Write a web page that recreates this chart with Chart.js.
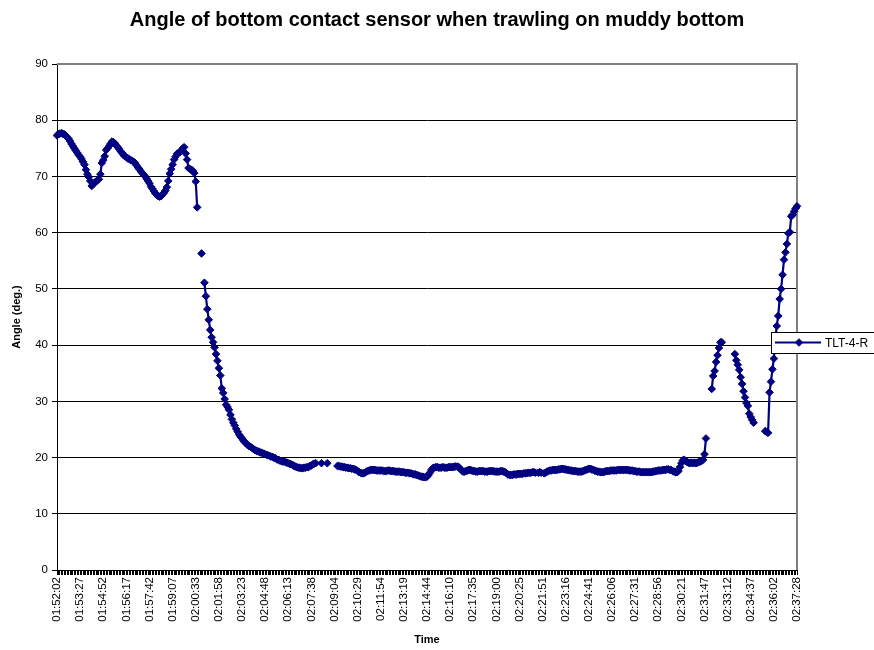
<!DOCTYPE html>
<html>
<head>
<meta charset="utf-8">
<title>Angle of bottom contact sensor</title>
<script src="https://cdn.jsdelivr.net/npm/chart.js@4"></script>
<style>
  body { margin: 0; background: #fff; }
</style>
</head>
<body>
<canvas id="myChart" width="874" height="650"></canvas>
<script>
// time labels printed on the x axis (one every 16 readings)
const tickLabels = ['01:52:02', '01:53:27', '01:54:52', '01:56:17', '01:57:42', '01:59:07', '02:00:33',
  '02:01:58', '02:03:23', '02:04:48', '02:06:13', '02:07:38', '02:09:04', '02:10:29', '02:11:54',
  '02:13:19', '02:14:44', '02:16:10', '02:17:35', '02:19:00', '02:20:25', '02:21:51', '02:23:16',
  '02:24:41', '02:26:06', '02:27:31', '02:28:56', '02:30:21', '02:31:47', '02:33:12', '02:34:37',
  '02:36:02', '02:37:28'];
const labelEvery = 16;

// TLT-4-R angle readings (deg.), null = missing reading
const angle = [
  77.3, 77.5, 77.6, 77.7, 77.6, 77.5, 77.3, 77.0, 76.7, 76.3,
  75.8, 75.4, 75.0, 74.6, 74.2, 73.8, 73.5, 73.1, 72.6, 72.1,
  71.2, 70.4, 69.9, 69.2, 68.3, 68.6, 68.9, 69.1, 69.3, 69.5,
  70.4, 72.4, 72.9, 73.6, 74.7, 75.0, 75.4, 75.8, 76.2, 76.1,
  75.9, 75.5, 75.2, 74.9, 74.5, 74.2, 73.8, 73.6, 73.4, 73.2,
  73.1, 72.9, 72.8, 72.6, 72.4, 72.0, 71.6, 71.3, 70.9, 70.6,
  70.3, 70.0, 69.6, 69.2, 68.8, 68.2, 67.8, 67.4, 67.0, 66.7,
  66.5, 66.4, 66.5, 66.8, 67.1, 67.5, 68.1, 69.2, 70.5, 71.3,
  72.1, 73.0, 73.5, 74.0, 74.2, 74.3, 74.6, 75.0, 75.2, 74.1,
  73.0, 71.5, 71.3, 71.2, 71.0, 70.6, 69.1, 64.5, null, null,
  56.3, null, 51.1, 48.7, 46.4, 44.5, 42.7, 41.4, 40.5, 39.6,
  38.4, 37.2, 35.9, 34.6, 32.3, 31.5, 30.4, 29.4, 29.0, 28.5,
  27.6, 26.8, 26.2, 25.7, 25.1, 24.6, 24.1, 23.7, 23.4, 23.0,
  22.7, 22.5, 22.2, 22.0, 21.9, 21.7, 21.5, 21.3, 21.2, 21.1,
  21.0, 20.9, 20.8, 20.7, 20.6, 20.5, 20.4, 20.3, 20.2, 20.1,
  20.0, 19.9, 19.7, 19.6, 19.5, 19.4, 19.3, 19.3, 19.2, 19.1,
  19.0, 18.9, 18.8, 18.7, 18.5, 18.4, 18.3, 18.2, 18.2, 18.1,
  18.1, 18.2, 18.2, 18.3, 18.3, 18.5, 18.6, 18.8, 18.9, 19.0,
  null, null, null, 19.0, null, null, null, 19.0, null, null,
  null, null, null, null, 18.5, 18.5, 18.4, 18.4, 18.3, 18.3,
  18.2, 18.2, 18.1, 18.1, 18.0, 18.0, 17.9, 17.8, 17.6, 17.4,
  17.3, 17.2, 17.2, 17.3, 17.5, 17.6, 17.7, 17.8, 17.8, 17.8,
  17.8, 17.7, 17.7, 17.7, 17.7, 17.7, 17.6, 17.6, 17.6, 17.7,
  17.7, 17.6, 17.6, 17.6, 17.5, 17.5, 17.5, 17.5, 17.4, 17.4,
  17.4, 17.3, 17.3, 17.3, 17.2, 17.2, 17.1, 17.0, 17.0, 16.9,
  16.8, 16.7, 16.6, 16.6, 16.5, 16.5, 16.6, 16.9, 17.3, 17.8,
  18.1, 18.2, 18.3, 18.3, 18.2, 18.2, 18.2, 18.3, 18.2, 18.2,
  18.2, 18.3, 18.3, 18.3, 18.3, 18.4, 18.4, 18.4, 18.3, 18.0,
  17.7, 17.5, 17.5, 17.6, 17.7, 17.8, 17.8, 17.7, 17.6, 17.6,
  17.5, 17.5, 17.6, 17.6, 17.6, 17.6, 17.5, 17.5, 17.5, 17.6,
  17.6, 17.6, 17.6, 17.5, 17.5, 17.5, 17.5, 17.6, 17.6, 17.5,
  17.4, 17.2, 17.0, 16.9, 16.9, 16.9, 17.0, 17.0, 17.0, 17.1,
  17.1, 17.1, 17.1, 17.2, 17.2, 17.2, 17.3, 17.3, 17.3, 17.4,
  17.4, 17.3, null, 17.3, 17.4, 17.3, null, 17.2, 17.3, 17.5,
  17.6, 17.7, 17.7, 17.8, 17.8, 17.8, 17.8, 17.9, 17.9, 18.0,
  18.0, 17.9, 17.9, 17.8, 17.8, 17.7, 17.7, 17.6, 17.6, 17.6,
  17.5, 17.5, 17.5, 17.5, 17.6, 17.7, 17.8, 17.9, 18.0, 18.0,
  17.9, 17.8, 17.7, 17.6, 17.5, 17.5, 17.4, 17.4, 17.4, 17.5,
  17.6, 17.6, 17.6, 17.7, 17.7, 17.7, 17.7, 17.7, 17.8, 17.8,
  17.8, 17.8, 17.8, 17.8, 17.8, 17.8, 17.7, 17.7, 17.7, 17.6,
  17.6, 17.5, 17.5, 17.5, 17.4, 17.4, 17.4, 17.4, 17.4, 17.4,
  17.4, 17.4, 17.5, 17.5, 17.6, 17.6, 17.7, 17.7, 17.7, 17.8,
  17.8, 17.8, 17.9, 17.9, 17.8, 17.8, 17.6, 17.5, 17.4, 17.4,
  17.6, 18.3, 19.0, 19.5, 19.6, 19.4, 19.2, 19.1, 19.0, 19.1,
  19.0, 19.1, 19.0, 19.1, 19.2, 19.3, 19.4, 19.6, 20.6, 23.4,
  null, null, null, 32.2, 34.5, 35.4, 37.0, 38.2, 39.5, 40.5,
  40.5, null, null, null, null, null, null, null, null, 38.4,
  37.3, 36.5, 35.6, 34.3, 33.1, 31.8, 30.7, 29.7, 29.2, 27.8,
  27.2, 26.7, 26.2, null, null, null, null, null, null, null,
  24.7, 24.6, 24.4, 31.6, 33.5, 35.7, 37.6, 41.0, 43.4, 45.2,
  48.2, 50.0, 52.5, 55.2, 56.5, 58.0, 59.9, 60.1, 62.9, 63.2,
  63.8, 64.3, 64.7
];

const navy = '#000080';

// one category per reading, only every 16th carries a time label
const labels = angle.map((v, i) => (i % labelEvery === 0 ? tickLabels[i / labelEvery] : ''));

Chart.defaults.font.family = "Arial, 'Liberation Sans', sans-serif";
Chart.defaults.color = '#000';

// grey plot frame (top/right) and the Excel-style legend box
const frame = {
  id: 'frame',
  beforeDatasetsDraw(chart) {
    const { ctx, chartArea: a } = chart;
    ctx.save();
    ctx.strokeStyle = '#808080';
    ctx.lineWidth = 2;
    ctx.beginPath();
    ctx.moveTo(a.left, a.top);
    ctx.lineTo(a.right, a.top);
    ctx.lineTo(a.right, a.bottom);
    ctx.stroke();
    ctx.restore();
  },
  afterDraw(chart) {
    const { ctx, chartArea: a } = chart;
    const bx = a.right - 26, by = a.top + 268, bw = 120, bh = 21;
    const cy = by + bh / 2;
    ctx.save();
    ctx.fillStyle = '#fff';
    ctx.fillRect(bx, by, bw, bh);
    ctx.strokeStyle = '#000';
    ctx.lineWidth = 1;
    ctx.strokeRect(bx + 0.5, by + 0.5, bw, bh);
    ctx.strokeStyle = navy;
    ctx.lineWidth = 2.2;
    ctx.beginPath();
    ctx.moveTo(bx + 4, cy);
    ctx.lineTo(bx + 50, cy);
    ctx.stroke();
    ctx.fillStyle = navy;
    ctx.lineWidth = 1;
    ctx.beginPath();
    Chart.helpers.drawPoint(ctx, { pointStyle: 'rectRot', radius: 3.8, borderWidth: 1 }, bx + 28, cy);
    ctx.fillStyle = '#000';
    ctx.font = "12px Arial, 'Liberation Sans', sans-serif";
    ctx.textBaseline = 'middle';
    ctx.fillText('TLT-4-R', bx + 54, cy + 1);
    ctx.restore();
  }
};

const config = {
  type: 'line',
  data: {
    labels: labels,
    datasets: [{
      label: 'TLT-4-R',
      data: angle,
      borderColor: navy,
      backgroundColor: navy,
      borderWidth: 2.2,
      pointStyle: 'rectRot',
      pointRadius: 3.8,
      pointBorderWidth: 1,
      pointBackgroundColor: navy,
      pointBorderColor: navy,
      spanGaps: false,
      tension: 0,
      clip: false
    }]
  },
  options: {
    responsive: false,
    animation: false,
    devicePixelRatio: 1,
    layout: { padding: 0 },
    plugins: {
      legend: { display: false },
      tooltip: { enabled: false },
      title: {
        display: true,
        text: 'Angle of bottom contact sensor when trawling on muddy bottom',
        color: '#000',
        font: { size: 20, weight: 'bold' },
        padding: { top: 8, bottom: 32 }
      }
    },
    scales: {
      x: {
        ticks: { autoSkip: false, minRotation: 90, maxRotation: 90, font: { size: 11.5 }, padding: 2 },
        grid: { drawOnChartArea: false, tickLength: 5, color: '#000', tickColor: '#000' },
        border: { color: '#000', width: 1 },
        title: { display: true, text: 'Time', font: { size: 11, weight: 'bold' }, padding: { top: 0, bottom: 3 } },
        afterFit: (s) => { s.height = 80; }
      },
      y: {
        min: 0,
        max: 90,
        ticks: { stepSize: 10, font: { size: 11.5 }, padding: 4 },
        grid: {
          color: (c) => (c.tick && (c.tick.value === 0 || c.tick.value === 90) ? 'rgba(0,0,0,0)' : '#000'),
          tickColor: '#000',
          tickLength: 5
        },
        border: { color: '#000', width: 1 },
        title: { display: true, text: 'Angle (deg.)', font: { size: 11, weight: 'bold' }, padding: { top: 10, bottom: 0 } },
        afterFit: (s) => { s.width = 57; }
      },
      yRight: {
        position: 'right',
        min: 0,
        max: 90,
        ticks: { display: false },
        grid: { display: false },
        border: { display: false },
        afterFit: (s) => { s.width = 77; }
      }
    }
  },
  plugins: [frame]
};

const myChart = new Chart(document.getElementById('myChart'), config);
</script>
</body>
</html>
